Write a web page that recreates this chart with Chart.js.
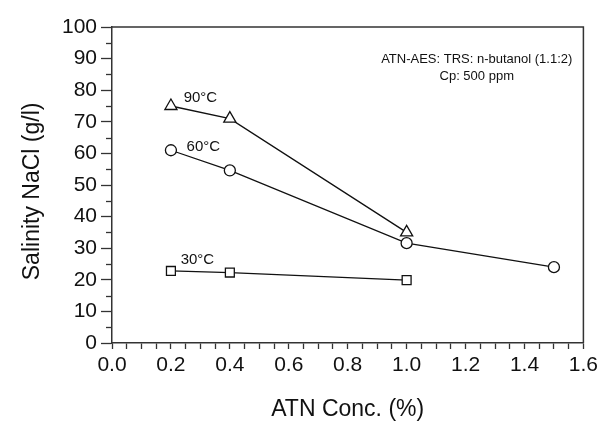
<!DOCTYPE html>
<html>
<head>
<meta charset="utf-8">
<script src="https://cdn.jsdelivr.net/npm/chart.js@4.4.1/dist/chart.umd.min.js"></script>
<style>
  html, body { margin: 0; padding: 0; background: #ffffff; }
  #wrap { width: 602px; height: 421px; }
</style>
</head>
<body>
<div id="wrap"><canvas id="c" width="602" height="421"></canvas></div>
<script>
// ---- data ----
const seriesNames = ['90°C', '60°C', '30°C'];
const conc90 = [0.2, 0.4, 1.0];
const sal90  = [75, 71, 35];
const conc60 = [0.2, 0.4, 1.0, 1.5];
const sal60  = [61, 54.6, 31.6, 24];
const conc30 = [0.2, 0.4, 1.0];
const sal30  = [22.8, 22.3, 19.9];
const xTickLabels = ['0.0', '0.2', '0.4', '0.6', '0.8', '1.0', '1.2', '1.4', '1.6'];
const yTickLabels = ['0', '10', '20', '30', '40', '50', '60', '70', '80', '90', '100'];
const annotationLines = ['ATN-AES: TRS: n-butanol (1.1:2)', 'Cp: 500 ppm'];

const FONT = '"Liberation Sans", Arial, Helvetica, sans-serif';
const INK = '#111111';

function pts(xs, ys) { return xs.map((x, i) => ({ x: x, y: ys[i] })); }

// decorations: frame, minor y ticks, series labels, annotation
const decor = {
  id: 'decor',
  afterDraw(chart) {
    const ctx = chart.ctx;
    const a = chart.chartArea;
    const xs = chart.scales.x, ys = chart.scales.y;
    ctx.save();
    // top and right frame
    ctx.strokeStyle = '#333333';
    ctx.lineWidth = 1.5;
    ctx.beginPath();
    ctx.moveTo(a.left, a.top);
    ctx.lineTo(a.right, a.top);
    ctx.lineTo(a.right, a.bottom);
    ctx.stroke();
    // minor y ticks
    ctx.lineWidth = 1.3;
    for (let v = 5; v < 100; v += 10) {
      const py = Math.round(ys.getPixelForValue(v)) + 0.5;
      ctx.beginPath();
      ctx.moveTo(a.left - 6, py);
      ctx.lineTo(a.left, py);
      ctx.stroke();
    }
    // series labels
    ctx.fillStyle = INK;
    ctx.font = '15px ' + FONT;
    ctx.textAlign = 'center';
    ctx.textBaseline = 'middle';
    const labelPos = [[0.30, 77.5], [0.31, 62], [0.29, 26.3]];
    seriesNames.forEach((n, i) => {
      ctx.fillText(n, xs.getPixelForValue(labelPos[i][0]), ys.getPixelForValue(labelPos[i][1]));
    });
    // annotation
    ctx.font = '13px ' + FONT;
    const annX = xs.getPixelForValue(1.238);
    ctx.fillText(annotationLines[0], annX, ys.getPixelForValue(89.8));
    ctx.fillText(annotationLines[1], annX, ys.getPixelForValue(84.4));
    ctx.restore();
  }
};

const common = {
  showLine: true,
  fill: false,
  borderColor: INK,
  borderWidth: 1.3,
  pointBorderColor: INK,
  pointBackgroundColor: '#ffffff',
  pointBorderWidth: 1.3
};

new Chart(document.getElementById('c'), {
  type: 'scatter',
  data: {
    datasets: [
      Object.assign({ label: seriesNames[0], data: pts(conc90, sal90), pointStyle: 'triangle', pointRadius: 7 }, common),
      Object.assign({ label: seriesNames[1], data: pts(conc60, sal60), pointStyle: 'circle', pointRadius: 5.5 }, common),
      Object.assign({ label: seriesNames[2], data: pts(conc30, sal30), pointStyle: 'rect', pointRadius: 6.3 }, common)
    ]
  },
  options: {
    responsive: false,
    animation: false,
    devicePixelRatio: 1,
    layout: { padding: { left: 0, top: 27, right: 17, bottom: 0 } },
    plugins: { legend: { display: false }, tooltip: { enabled: false } },
    scales: {
      x: {
        type: 'linear',
        min: 0, max: 1.6,
        afterFit(s) { s.height = 78; },
        ticks: {
          stepSize: 0.05,
          autoSkip: false,
          maxRotation: 0,
          padding: 4,
          color: INK,
          font: { family: FONT, size: 21 },
          callback(v) {
            const k = Math.round(v * 100);
            return k % 20 === 0 ? xTickLabels[k / 20] : '';
          }
        },
        grid: { drawOnChartArea: false, drawTicks: true, tickLength: 6, tickColor: '#333333', tickWidth: 1.3 },
        border: { display: true, color: '#333333', width: 1.5 },
        title: { display: true, text: 'ATN Conc. (%)', color: INK, font: { family: FONT, size: 23 }, padding: { top: 0, bottom: -2 } }
      },
      y: {
        min: 0, max: 100,
        afterFit(s) { s.width = 112; },
        ticks: {
          stepSize: 10,
          padding: 4,
          color: INK,
          font: { family: FONT, size: 21 },
          callback(v) { return yTickLabels[Math.round(v / 10)]; }
        },
        grid: { drawOnChartArea: false, drawTicks: true, tickLength: 11, tickColor: '#333333', tickWidth: 1.3 },
        border: { display: true, color: '#333333', width: 1.5 },
        title: { display: true, text: 'Salinity NaCl (g/l)  ', color: INK, font: { family: FONT, size: 23 }, padding: { top: 19, bottom: 0 } }
      }
    }
  },
  plugins: [decor]
});
</script>
</body>
</html>
